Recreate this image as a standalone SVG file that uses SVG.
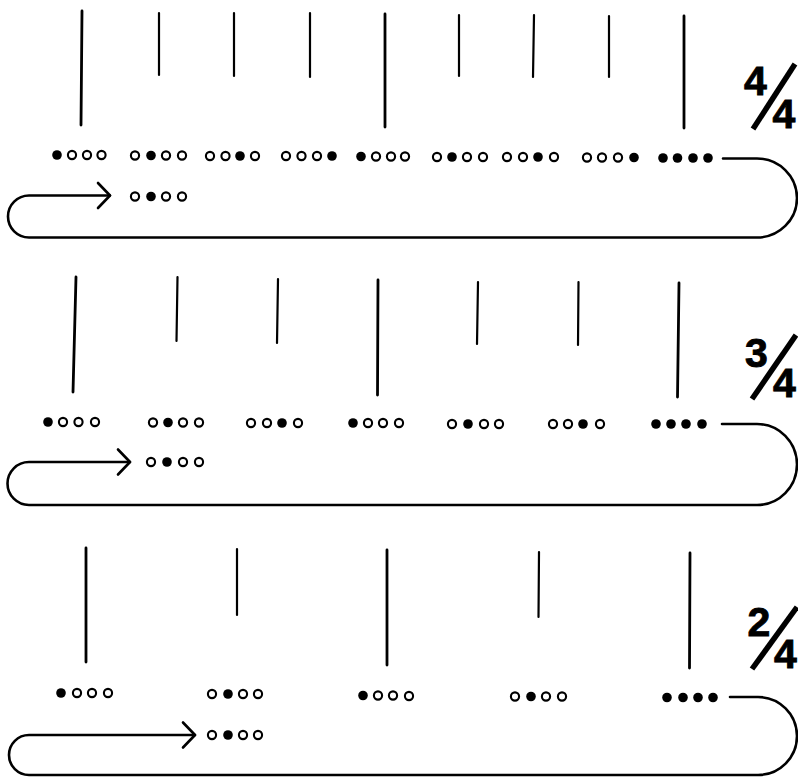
<svg xmlns="http://www.w3.org/2000/svg" width="798" height="778" viewBox="0 0 798 778">
<style>
.bg{fill:#fff}
.f{fill:#000}
.o{fill:#fff;stroke:#000;stroke-width:2.1}
.lg{stroke:#000;stroke-width:2.8;stroke-linecap:round}
.sh{stroke:#000;stroke-width:2.2;stroke-linecap:round}
.loop{fill:none;stroke:#000;stroke-width:2.6;stroke-linecap:round;stroke-linejoin:round}
.num{font-family:"Liberation Sans",Arial,sans-serif;font-weight:bold;font-size:41px;fill:#000;stroke:#000;stroke-width:0.9;text-anchor:middle}
.sl{stroke:#000;stroke-width:5.5;stroke-linecap:butt}
</style>
<rect class="bg" x="0" y="0" width="798" height="778"/>

<g id="measure-44">
  <g id="beats-44">
    <line class="lg" x1="82" y1="11" x2="81" y2="125"/>
    <line class="sh" x1="159" y1="13" x2="159" y2="75"/>
    <line class="sh" x1="234" y1="13" x2="234" y2="76"/>
    <line class="sh" x1="310" y1="13" x2="310" y2="77"/>
    <line class="lg" x1="385" y1="14" x2="385" y2="127"/>
    <line class="sh" x1="459" y1="15" x2="459" y2="76"/>
    <line class="sh" x1="534" y1="15" x2="533" y2="77"/>
    <line class="sh" x1="609" y1="16" x2="609" y2="77"/>
    <line class="lg" x1="684" y1="16" x2="684" y2="128"/>
  </g>
  <g id="sig-44">
    <text class="num" x="755.5" y="95">4</text>
    <line class="sl" x1="795" y1="64" x2="753" y2="129"/>
    <text class="num" x="784" y="128">4</text>
  </g>
  <g id="dots-44">
    <circle class="f" cx="57" cy="155" r="4.8"/><circle class="o" cx="72" cy="155" r="4.1"/><circle class="o" cx="87" cy="155" r="4.1"/><circle class="o" cx="101.5" cy="155" r="4.1"/>
    <circle class="o" cx="135" cy="155.5" r="4.1"/><circle class="f" cx="151" cy="155.5" r="4.8"/><circle class="o" cx="166" cy="155.5" r="4.1"/><circle class="o" cx="182" cy="155.5" r="4.1"/>
    <circle class="o" cx="210" cy="156" r="4.1"/><circle class="o" cx="225.5" cy="156" r="4.1"/><circle class="f" cx="240" cy="156" r="4.8"/><circle class="o" cx="255" cy="156" r="4.1"/>
    <circle class="o" cx="286" cy="156" r="4.1"/><circle class="o" cx="301.5" cy="156" r="4.1"/><circle class="o" cx="317" cy="156" r="4.1"/><circle class="f" cx="332" cy="156" r="4.8"/>
    <circle class="f" cx="361" cy="156.5" r="4.8"/><circle class="o" cx="376" cy="156.5" r="4.1"/><circle class="o" cx="391" cy="156.5" r="4.1"/><circle class="o" cx="405" cy="156.5" r="4.1"/>
    <circle class="o" cx="437" cy="157" r="4.1"/><circle class="f" cx="452" cy="157" r="4.8"/><circle class="o" cx="467" cy="157" r="4.1"/><circle class="o" cx="483" cy="157" r="4.1"/>
    <circle class="o" cx="507" cy="157" r="4.1"/><circle class="o" cx="523" cy="157" r="4.1"/><circle class="f" cx="538" cy="157" r="4.8"/><circle class="o" cx="554" cy="157" r="4.1"/>
    <circle class="o" cx="587" cy="157.5" r="4.1"/><circle class="o" cx="602" cy="157.5" r="4.1"/><circle class="o" cx="618" cy="157.5" r="4.1"/><circle class="f" cx="634" cy="157.5" r="4.8"/>
    <circle class="f" cx="663" cy="158" r="4.8"/><circle class="f" cx="677.5" cy="158" r="4.8"/><circle class="f" cx="693" cy="158" r="4.8"/><circle class="f" cx="708" cy="158" r="4.8"/>
  </g>
  <g id="repeat-44">
    <circle class="o" cx="135" cy="196.5" r="4.1"/><circle class="f" cx="151" cy="196.5" r="4.8"/><circle class="o" cx="166" cy="196.5" r="4.1"/><circle class="o" cx="182" cy="196.5" r="4.1"/>
  </g>
</g>

<g id="measure-34">
  <g id="beats-34">
    <line class="lg" x1="76" y1="277" x2="73" y2="392"/>
    <line class="sh" x1="177.5" y1="277" x2="176.5" y2="341"/>
    <line class="sh" x1="278" y1="279" x2="277" y2="343"/>
    <line class="lg" x1="378" y1="280" x2="377.5" y2="395"/>
    <line class="sh" x1="478" y1="282" x2="477" y2="344"/>
    <line class="sh" x1="578.5" y1="282" x2="578" y2="345"/>
    <line class="lg" x1="679" y1="283" x2="677.5" y2="397"/>
  </g>
  <g id="sig-34">
    <text class="num" x="756.5" y="367">3</text>
    <line class="sl" x1="796" y1="335" x2="752" y2="399"/>
    <text class="num" x="784.5" y="397">4</text>
  </g>
  <g id="dots-34">
    <circle class="f" cx="48" cy="422" r="4.8"/><circle class="o" cx="63" cy="422" r="4.1"/><circle class="o" cx="78.5" cy="422" r="4.1"/><circle class="o" cx="95" cy="422" r="4.1"/>
    <circle class="o" cx="153" cy="422.5" r="4.1"/><circle class="f" cx="168" cy="422.5" r="4.8"/><circle class="o" cx="183" cy="422.5" r="4.1"/><circle class="o" cx="199" cy="422.5" r="4.1"/>
    <circle class="o" cx="251" cy="423" r="4.1"/><circle class="o" cx="267" cy="423" r="4.1"/><circle class="f" cx="282" cy="423" r="4.8"/><circle class="o" cx="298" cy="423" r="4.1"/>
    <circle class="f" cx="353" cy="423" r="4.8"/><circle class="o" cx="368" cy="423" r="4.1"/><circle class="o" cx="383" cy="423" r="4.1"/><circle class="o" cx="399" cy="423" r="4.1"/>
    <circle class="o" cx="452" cy="424" r="4.1"/><circle class="f" cx="468" cy="424" r="4.8"/><circle class="o" cx="484" cy="424" r="4.1"/><circle class="o" cx="499" cy="424" r="4.1"/>
    <circle class="o" cx="553" cy="424" r="4.1"/><circle class="o" cx="568" cy="424" r="4.1"/><circle class="f" cx="583" cy="424" r="4.8"/><circle class="o" cx="600" cy="424" r="4.1"/>
    <circle class="f" cx="656" cy="424" r="4.8"/><circle class="f" cx="671" cy="424" r="4.8"/><circle class="f" cx="686" cy="424" r="4.8"/><circle class="f" cx="702" cy="424" r="4.8"/>
  </g>
  <g id="repeat-34">
    <circle class="o" cx="151" cy="462" r="4.1"/><circle class="f" cx="167" cy="462" r="4.8"/><circle class="o" cx="183" cy="462" r="4.1"/><circle class="o" cx="199" cy="462" r="4.1"/>
  </g>
</g>

<g id="measure-24">
  <g id="beats-24">
    <line class="lg" x1="86" y1="548" x2="86" y2="662"/>
    <line class="sh" x1="237" y1="549" x2="237" y2="615"/>
    <line class="lg" x1="387" y1="550" x2="387" y2="665"/>
    <line class="sh" x1="539" y1="552" x2="538.5" y2="617"/>
    <line class="lg" x1="690" y1="553" x2="689.5" y2="668"/>
  </g>
  <g id="sig-24">
    <text class="num" x="759" y="636">2</text>
    <line class="sl" x1="797" y1="607" x2="752" y2="669"/>
    <text class="num" x="785.5" y="668">4</text>
  </g>
  <g id="dots-24">
    <circle class="f" cx="61" cy="693" r="4.8"/><circle class="o" cx="77" cy="693" r="4.1"/><circle class="o" cx="92" cy="693" r="4.1"/><circle class="o" cx="108" cy="693" r="4.1"/>
    <circle class="o" cx="212" cy="694" r="4.1"/><circle class="f" cx="228" cy="694" r="4.8"/><circle class="o" cx="243" cy="694" r="4.1"/><circle class="o" cx="258" cy="694" r="4.1"/>
    <circle class="f" cx="363" cy="695.5" r="4.8"/><circle class="o" cx="378" cy="695.5" r="4.1"/><circle class="o" cx="393" cy="695.5" r="4.1"/><circle class="o" cx="409" cy="696" r="4.1"/>
    <circle class="o" cx="515" cy="696.5" r="4.1"/><circle class="f" cx="531" cy="696.5" r="4.8"/><circle class="o" cx="546" cy="696.5" r="4.1"/><circle class="o" cx="562" cy="696.5" r="4.1"/>
    <circle class="f" cx="667" cy="697.5" r="4.8"/><circle class="f" cx="683" cy="697.5" r="4.8"/><circle class="f" cx="698" cy="697.5" r="4.8"/><circle class="f" cx="713" cy="697.5" r="4.8"/>
  </g>
  <g id="repeat-24">
    <circle class="o" cx="212" cy="735" r="4.1"/><circle class="f" cx="228" cy="735" r="4.8"/><circle class="o" cx="243" cy="735" r="4.1"/><circle class="o" cx="258" cy="735" r="4.1"/>
  </g>
</g>

<g id="connectors">
  <path class="loop" d="M723,158.5 H757 A40,39.5 0 0 1 757,237.5 H29 A21,21 0 0 1 29,195.5 H110"/>
  <path class="loop" d="M98,183 L110,195.5 L98,208"/>
  <path class="loop" d="M722,424 H757 A40,40.5 0 0 1 757,505 H29 A21.5,21.5 0 0 1 29,462 H130"/>
  <path class="loop" d="M118,449.5 L130,462 L118,474.5"/>
  <path class="loop" d="M730,697 H758 A39,39 0 0 1 758,775 H29 A20,20 0 0 1 29,735 H195"/>
  <path class="loop" d="M183,722.5 L195,735 L183,747.5"/>
</g>
</svg>
